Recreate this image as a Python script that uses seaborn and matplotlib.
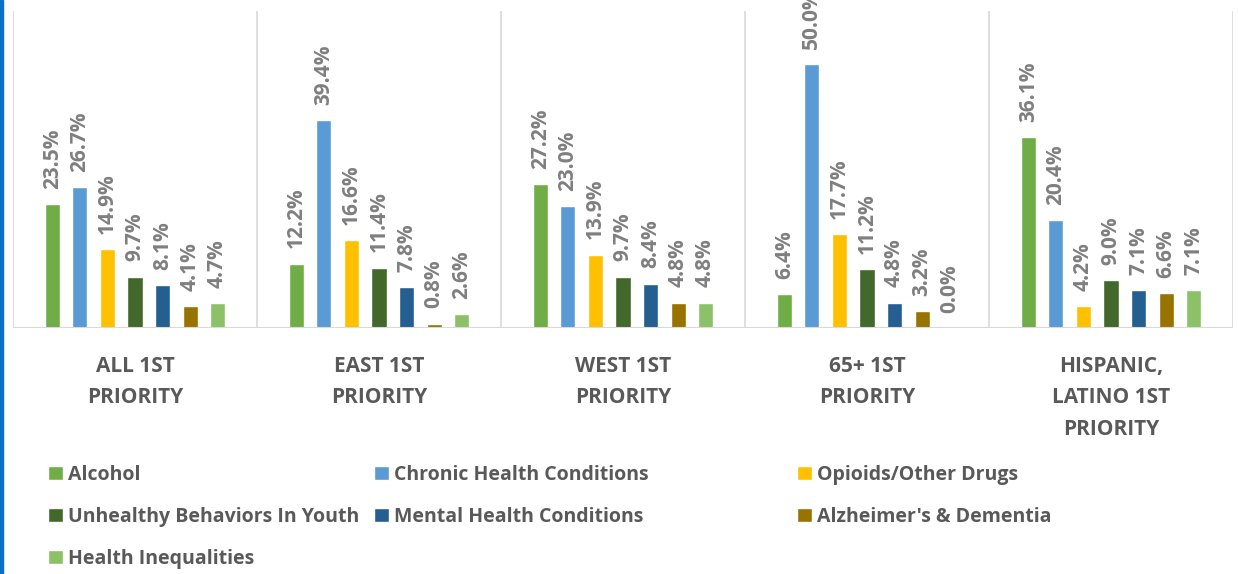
import pandas as pd
import seaborn as sns
import matplotlib.pyplot as plt
from matplotlib.patches import Patch, Rectangle

# groups on the x axis
groups = ["ALL 1ST\nPRIORITY", "EAST 1ST\nPRIORITY", "WEST 1ST\nPRIORITY",
          "65+ 1ST\nPRIORITY", "HISPANIC,\nLATINO 1ST\nPRIORITY"]

issues = ["Alcohol", "Chronic Health Conditions", "Opioids/Other Drugs",
          "Unhealthy Behaviors In Youth", "Mental Health Conditions",
          "Alzheimer's & Dementia", "Health Inequalities"]

colors = ["#70AD47", "#5B9BD5", "#FFC000", "#43682B", "#255E91", "#997300", "#8CC168"]

# percent values, one list per issue (order of groups above)
alcohol = [23.5, 12.2, 27.2, 6.4, 36.1]
chronic = [26.7, 39.4, 23.0, 50.0, 20.4]
opioids = [14.9, 16.6, 13.9, 17.7, 4.2]
youth = [9.7, 11.4, 9.7, 11.2, 9.0]
mental = [8.1, 7.8, 8.4, 4.8, 7.1]
alzheimer = [4.1, 0.8, 4.8, 3.2, 6.6]
inequality = [4.7, 2.6, 4.8, 0.0, 7.1]

series = [alcohol, chronic, opioids, youth, mental, alzheimer, inequality]

rows = []
for issue, vals in zip(issues, series):
    for g, v in zip(groups, vals):
        rows.append({"Group": g, "Issue": issue, "Value": v})
df = pd.DataFrame(rows)

sns.set_style("white")
plt.rcParams["font.family"] = ["Open Sans", "DejaVu Sans"]

fig = plt.figure(figsize=(12.38, 5.74), dpi=100)
ax = fig.add_axes([13 / 1238, 1 - 328 / 574, 1220 / 1238, 317 / 574])

palette = dict(zip(issues, colors))
sns.barplot(data=df, x="Group", y="Value", hue="Issue", order=groups, hue_order=issues,
            palette=palette, width=0.79, gap=0.45, saturation=1, legend=False, ax=ax)

for cont in ax.containers:
    ax.bar_label(cont, fmt="%.1f%%", rotation=90, padding=11, fontsize=15,
                 fontweight="bold", color="#7F7F7F")

ax.set_ylim(0, 60)
ax.set_xlim(-0.5, 4.5)
for xv in [-0.5, 0.5, 1.5, 2.5, 3.5, 4.5]:
    ax.axvline(xv, color="#D9D9D9", lw=1.2, zorder=0)
ax.axhline(0, color="#D9D9D9", lw=1.5)

for s in ax.spines.values():
    s.set_visible(False)
ax.set_yticks([])
ax.set_xlabel("")
ax.set_ylabel("")
ax.tick_params(axis="x", length=0, pad=20)
for lab in ax.get_xticklabels():
    lab.set_fontsize(15)
    lab.set_fontweight("bold")
    lab.set_color("#595959")
    lab.set_linespacing(1.65)

# legend, three columns placed like the original
cols = [[0, 3, 6], [1, 4], [2, 5]]
xs = [48, 374, 797]
for idx, xpx in zip(cols, xs):
    handles = [Patch(facecolor=colors[i], label=issues[i]) for i in idx]
    leg = fig.legend(handles=handles, loc="upper left",
                     bbox_to_anchor=(xpx / 1238, 1 - 465 / 574),
                     frameon=False, borderpad=0, borderaxespad=0,
                     handlelength=0.75, handleheight=0.75, handletextpad=0.3,
                     labelspacing=1.12,
                     prop={"size": 14, "weight": "bold"}, labelcolor="#595959")

# blue left border
fig.patches.append(Rectangle((0, 0), 3 / 1238, 1, transform=fig.transFigure,
                             color="#0A70C8", zorder=5))

fig.savefig("out.png", dpi=100)
